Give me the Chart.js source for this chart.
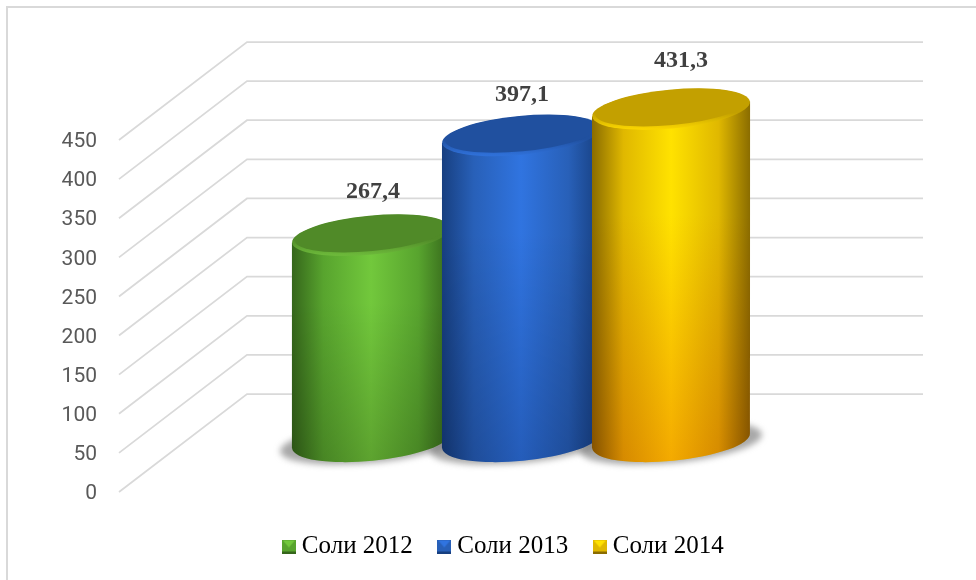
<!DOCTYPE html>
<html>
<head>
<meta charset="utf-8">
<title>Соли</title>
<script src="https://cdn.jsdelivr.net/npm/chart.js@4"></script>
<style>
  html, body { margin: 0; padding: 0; background: #fff; }
  canvas { display: block; }
</style>
</head>
<body>
<canvas id="chart" width="976" height="580"></canvas>
<script>
// ============================================================
// DATA
// ============================================================

const seriesNames = ["Соли 2012", "Соли 2013", "Соли 2014"];
const seriesValues = [267.4, 397.1, 431.3];
const tickLabels = [0, 50, 100, 150, 200, 250, 300, 350, 400, 450];


// ============================================================
// STYLES
// ============================================================

const looks = [
  { edge: "#35661b", mid: "#58a42e", side: "#72c83c", tint: "#d0d0c8", rim: "#6cb83a", face: "#508a28", labelDx: 2, labelDy: -43 },
  { edge: "#173f80", mid: "#2860b8", side: "#3074e0", tint: "#c4ccd4", rim: "#2f70d8", face: "#20509f", labelDx: 1, labelDy: -41 },
  { edge: "#8a6c00", mid: "#e0b800", side: "#ffe200", tint: "#f4c0a0", rim: "#f8d400", face: "#c3a000", labelDx: 10, labelDy: -48 }
];

const GRID_COLOR = "#d9d9d9";
const WALL_DX = 128;
const WALL_DY = 98;
const TILT = -0.095;


// ============================================================
// LEGEND MARKERS
// ============================================================

function legendMarker(look) {
  const c = document.createElement("canvas");
  c.width = 14;
  c.height = 14;
  const g = c.getContext("2d");
  g.fillStyle = look.edge;
  g.fillRect(0, 0, 14, 14);
  g.fillStyle = look.mid;
  g.fillRect(0, 0, 14, 12);
  g.fillStyle = look.side;
  g.beginPath();
  g.moveTo(1, 1);
  g.lineTo(13, 1);
  g.lineTo(7, 8);
  g.closePath();
  g.fill();
  return c;
}


// ============================================================
// BACKDROP: FRAME AND 3D WALL GRID
// ============================================================

const wallPlugin = {
  id: "wall",
  afterLayout(chart) {
    // legend sits a little right of centre and higher than its padding allows
    chart.legend.left += 30;
    chart.legend.top -= 11;
  },
  beforeDatasetsDraw(chart) {
    const ctx = chart.ctx;
    const y = chart.scales.y;
    const area = chart.chartArea;

    ctx.save();
    ctx.strokeStyle = GRID_COLOR;
    ctx.lineWidth = 2;
    ctx.beginPath();
    ctx.moveTo(7, 580);
    ctx.lineTo(7, 7);
    ctx.lineTo(976, 7);
    ctx.stroke();

    ctx.lineWidth = 1.75;
    y.ticks.forEach((t, i) => {
      const py = y.getPixelForTick(i);
      ctx.beginPath();
      ctx.moveTo(area.left, py);
      ctx.lineTo(area.left + WALL_DX, py - WALL_DY);
      ctx.lineTo(area.right, py - WALL_DY);
      ctx.stroke();
    });
    ctx.restore();
  }
};


// ============================================================
// CYLINDERS AND VALUE LABELS
// ============================================================

function drawShadow(ctx, el) {
  const rx = el.width / 2 * 1.055;
  ctx.save();
  ctx.filter = "blur(3px)";
  ctx.fillStyle = "rgba(110,110,110,0.6)";
  ctx.beginPath();
  ctx.ellipse(el.x, el.base + 2, rx + 12, 20, TILT, 0, Math.PI * 2);
  ctx.fill();
  ctx.restore();
}

function drawCylinder(ctx, el, look) {
  const rx = el.width / 2 * 1.055;
  const ry = 19.5;
  const ryBase = 20;
  const dy = rx * Math.sin(TILT);
  const left = el.x - rx;
  const right = el.x + rx;

  ctx.save();
  ctx.beginPath();
  ctx.moveTo(left, el.y - dy);
  ctx.lineTo(left, el.base - dy);
  ctx.ellipse(el.x, el.base, rx, ryBase, TILT, Math.PI, 0, true);
  ctx.lineTo(right, el.y + dy);
  ctx.closePath();
  ctx.clip();

  const across = ctx.createLinearGradient(left, 0, right, 0);
  across.addColorStop(0, look.edge);
  across.addColorStop(0.2, look.mid);
  across.addColorStop(0.5, look.side);
  across.addColorStop(0.8, look.mid);
  across.addColorStop(1, look.edge);
  ctx.fillStyle = across;
  ctx.fillRect(left, el.y - 40, rx * 2, el.base - el.y + 80);

  const down = ctx.createLinearGradient(0, el.y, 0, el.base + ryBase);
  down.addColorStop(0, "#ffffff");
  down.addColorStop(0.3, "#ffffff");
  down.addColorStop(1, look.tint);
  ctx.globalCompositeOperation = "multiply";
  ctx.fillStyle = down;
  ctx.fillRect(left, el.y - 40, rx * 2, el.base - el.y + 80);
  ctx.restore();

  // top face, the rim only shows at the front
  ctx.save();
  const rimFade = ctx.createLinearGradient(0, el.y - ry, 0, el.y + ry);
  rimFade.addColorStop(0, look.face);
  rimFade.addColorStop(0.6, look.face);
  rimFade.addColorStop(1, look.rim);
  ctx.fillStyle = rimFade;
  ctx.beginPath();
  ctx.ellipse(el.x, el.y, rx, ry, TILT, 0, Math.PI * 2);
  ctx.fill();
  ctx.fillStyle = look.face;
  ctx.beginPath();
  ctx.ellipse(el.x, el.y - 1.5, rx - 3, ry - 2, TILT, 0, Math.PI * 2);
  ctx.fill();
  ctx.restore();
}

const cylinderPlugin = {
  id: "cylinders",
  afterDatasetsDraw(chart) {
    const ctx = chart.ctx;
    const bars = chart.data.datasets.map((d, i) => chart.getDatasetMeta(i).data[0]);

    bars.forEach(el => drawShadow(ctx, el));
    bars.forEach((el, i) => drawCylinder(ctx, el, looks[i]));

    ctx.save();
    ctx.font = "bold 24px 'Liberation Serif'";
    ctx.fillStyle = "#404040";
    ctx.textAlign = "center";
    ctx.textBaseline = "middle";
    bars.forEach((el, i) => {
      const text = String(seriesValues[i]).replace(".", ",");
      ctx.fillText(text, el.x + looks[i].labelDx, el.y + looks[i].labelDy);
    });
    ctx.restore();
  }
};


// ============================================================
// CHART
// ============================================================

new Chart(document.getElementById("chart"), {
  type: "bar",
  data: {
    labels: [""],
    datasets: seriesNames.map((name, i) => ({
      label: name,
      data: [seriesValues[i]],
      yAxisID: "yBars",
      backgroundColor: "transparent",
      borderWidth: 0
    }))
  },
  options: {
    responsive: false,
    animation: false,
    layout: { padding: { left: 59, right: 53, top: 140, bottom: 0 } },
    datasets: { bar: { categoryPercentage: 0.56, barPercentage: 1 } },
    plugins: {
      tooltip: { enabled: false },
      legend: {
        position: "bottom",
        onClick: null,
        labels: {
          usePointStyle: true,
          pointStyleWidth: 1,
          boxHeight: 14,
          padding: 31,
          color: "#000000",
          font: { family: "'Liberation Serif'", size: 25 },
          generateLabels: chart => chart.data.datasets.map((d, i) => ({
            text: d.label,
            datasetIndex: i,
            fontColor: "#000000",
            pointStyle: legendMarker(looks[i]),
            lineWidth: 0
          }))
        }
      }
    },
    scales: {
      x: {
        grid: { display: false },
        border: { display: false },
        ticks: { display: false },
        afterFit: scale => { scale.height = 22; }
      },
      y: {
        min: tickLabels[0],
        max: tickLabels[tickLabels.length - 1],
        afterBuildTicks: scale => { scale.ticks = tickLabels.map(v => ({ value: v })); },
        afterFit: scale => { scale.width = 60; },
        grid: { display: false, drawTicks: false },
        border: { display: false },
        ticks: {
          padding: 22,
          labelOffset: 2,
          color: "#595959",
          font: { family: "Roboto", size: 21 }
        }
      },
      // the bars stand on the floor of the 3D box, so they get their own scale
      yBars: {
        display: false,
        min: -66.5,
        max: 391.1
      }
    }
  },
  plugins: [wallPlugin, cylinderPlugin]
});
</script>
</body>
</html>
